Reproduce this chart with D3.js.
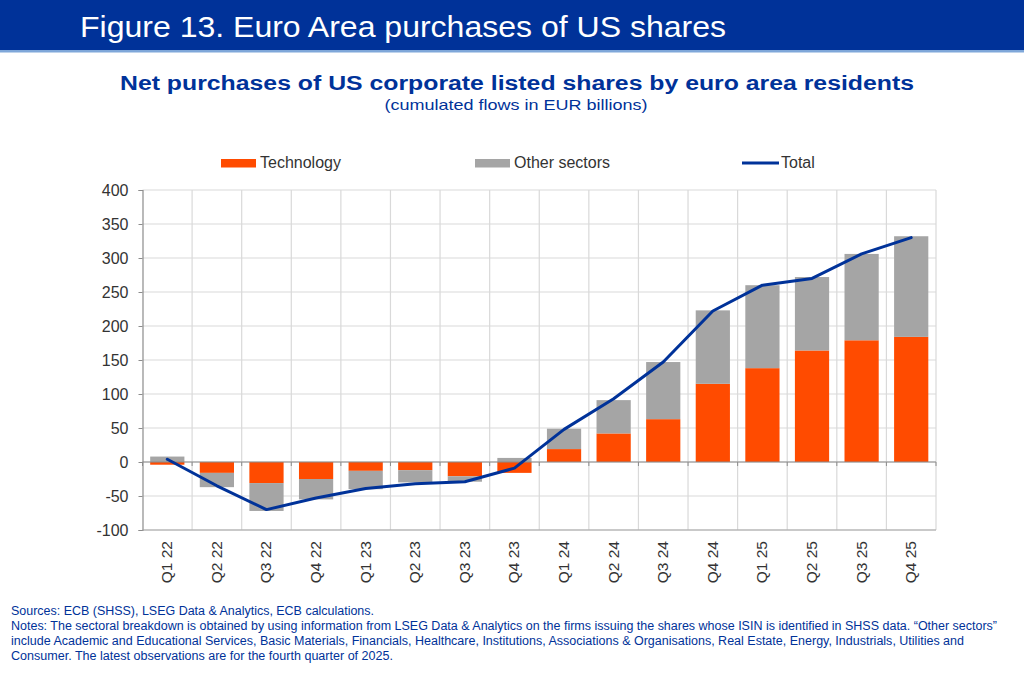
<!DOCTYPE html>
<html><head><meta charset="utf-8">
<script src="https://cdn.jsdelivr.net/npm/d3@7"></script>
<style>
body{margin:0;background:#fff;}
svg{display:block;font-family:"Liberation Sans",Arial,sans-serif;}
</style></head>
<body><svg id="c" width="1024" height="673"></svg>
<script>
const quarters = ["Q1 22","Q2 22","Q3 22","Q4 22","Q1 23","Q2 23","Q3 23","Q4 23","Q1 24","Q2 24","Q3 24","Q4 24","Q1 25","Q2 25","Q3 25","Q4 25"];
const technology = [-4,-16,-31,-25,-13,-12,-21,-16,19,42,63,115,138,164,179,184];
const otherSectors = [8,-21,-41,-30,-27,-18,-8,6,30,49,84,108,122,108,127,148];
const total = [4,-35,-70,-53,-39,-32,-29,-9,48,93,147,222,260,270,306,330];
const yTicks = [-100,-50,0,50,100,150,200,250,300,350,400];
const seriesNames = ["Technology","Other sectors","Total"];

const navy = "#003299", orange = "#FF4B00", grey = "#A5A5A5";
const svg = d3.select("#c");

// header
svg.append("rect").attr("x",0).attr("y",0).attr("width",1024).attr("height",50).attr("fill",navy);
svg.append("rect").attr("x",0).attr("y",50).attr("width",1024).attr("height",2.5).attr("fill","#7fa7d9");
svg.append("text").attr("x",80).attr("y",37).attr("fill","#fff").attr("font-size",29)
  .attr("textLength",646).attr("lengthAdjust","spacingAndGlyphs")
  .text("Figure 13. Euro Area purchases of US shares");
svg.append("text").attr("x",517).attr("y",90).attr("text-anchor","middle").attr("fill",navy)
  .attr("font-size",20).attr("font-weight","bold")
  .attr("textLength",794).attr("lengthAdjust","spacingAndGlyphs")
  .text("Net purchases of US corporate listed shares by euro area residents");
svg.append("text").attr("x",516).attr("y",110).attr("text-anchor","middle").attr("fill",navy)
  .attr("font-size",15).attr("textLength",263).attr("lengthAdjust","spacingAndGlyphs")
  .text("(cumulated flows in EUR billions)");

// scales
const L=142.5, R=936, T=190, B=530;
const x = d3.scaleBand().domain(quarters).range([L,R]).paddingInner(0.31).paddingOuter(0.155);
const y = d3.scaleLinear().domain([-100,400]).range([B,T]);

const g = svg.append("g");
g.selectAll("line.h").data(yTicks).join("line").attr("class","h")
  .attr("x1",L).attr("x2",R).attr("y1",d=>y(d)).attr("y2",d=>y(d))
  .attr("stroke","#d9d9d9").attr("stroke-width",1.2);
const step = x.step();
const bounds = quarters.map((q,i)=>x(q)-x.paddingOuter()*step + step);
g.selectAll("line.v").data(bounds).join("line").attr("class","v")
  .attr("x1",d=>d).attr("x2",d=>d).attr("y1",T).attr("y2",B)
  .attr("stroke","#d9d9d9").attr("stroke-width",1.2);

// stacked bars
const rows = quarters.map((q,i)=>({q, tech:technology[i], other:otherSectors[i]}));
const stack = d3.stack().keys(["tech","other"]).offset(d3.stackOffsetDiverging);
const stacked = stack(rows);
const colors = {tech:orange, other:grey};
g.selectAll("g.s").data(stacked).join("g").attr("class","s").attr("fill",d=>colors[d.key])
  .selectAll("rect").data(d=>d).join("rect")
  .attr("x",d=>x(d.data.q)).attr("width",x.bandwidth())
  .attr("y",d=>y(Math.max(d[0],d[1]))).attr("height",d=>Math.abs(y(d[0])-y(d[1])));

// y axis
const yAxis = d3.axisLeft(y).tickValues(yTicks).tickSize(4).tickPadding(10).tickFormat(d=>String(d));
const ya = svg.append("g").attr("transform",`translate(${L},0)`).call(yAxis);
ya.select(".domain").attr("stroke","#8c8c8c").attr("stroke-width",1.2);
ya.selectAll(".tick line").attr("stroke","#8c8c8c");
ya.selectAll(".tick text").attr("font-size",16).attr("fill","#333").attr("font-family","Liberation Sans,Arial,sans-serif");

// zero axis with ticks at boundaries
svg.append("line").attr("x1",L).attr("x2",R).attr("y1",y(0)).attr("y2",y(0)).attr("stroke","#8c8c8c").attr("stroke-width",1.2);
svg.selectAll("line.zt").data([L].concat(bounds)).join("line").attr("class","zt")
  .attr("x1",d=>d).attr("x2",d=>d).attr("y1",y(0)).attr("y2",y(0)+4).attr("stroke","#8c8c8c");
svg.append("line").attr("x1",L).attr("x2",R).attr("y1",B).attr("y2",B).attr("stroke","#a6a6a6").attr("stroke-width",1.2);

// total line
const line = d3.line().x((d,i)=>x(quarters[i])+x.bandwidth()/2).y(d=>y(d));
svg.append("path").datum(total).attr("d",line).attr("fill","none").attr("stroke",navy)
  .attr("stroke-width",3).attr("stroke-linejoin","round").attr("stroke-linecap","round");

// x labels rotated
svg.selectAll("text.xl").data(quarters).join("text").attr("class","xl")
  .attr("transform",d=>`translate(${x(d)+x.bandwidth()/2+5},541) rotate(-90)`)
  .attr("text-anchor","end").attr("font-size",15.5).attr("fill","#333").text(d=>d);

// legend
const lg = svg.append("g");
lg.append("rect").attr("x",221).attr("y",159).attr("width",35).attr("height",8.5).attr("fill",orange);
lg.append("text").attr("x",260).attr("y",168).attr("font-size",16).attr("fill","#333").text(seriesNames[0]);
lg.append("rect").attr("x",475).attr("y",159).attr("width",35).attr("height",8.5).attr("fill",grey);
lg.append("text").attr("x",514).attr("y",168).attr("font-size",16).attr("fill","#333").text(seriesNames[1]);
lg.append("line").attr("x1",742).attr("x2",779).attr("y1",163).attr("y2",163).attr("stroke",navy).attr("stroke-width",3);
lg.append("text").attr("x",781).attr("y",168).attr("font-size",16).attr("fill","#333").text(seriesNames[2]);

// footnotes
const notes = [
 ["Sources: ECB (SHSS), LSEG Data & Analytics, ECB calculations.",363],
 ["Notes: The sectoral breakdown is obtained by using information from LSEG Data & Analytics on the firms issuing the shares whose ISIN is identified in SHSS data. \u201cOther sectors\u201d",986],
 ["include Academic and Educational Services, Basic Materials, Financials, Healthcare, Institutions, Associations & Organisations, Real Estate, Energy, Industrials, Utilities and",953],
 ["Consumer. The latest observations are for the fourth quarter of 2025.",382]
];
svg.selectAll("text.fn").data(notes).join("text").attr("class","fn")
  .attr("x",11).attr("y",(d,i)=>615+i*15).attr("font-size",12).attr("fill",navy)
  .attr("textLength",d=>d[1]).attr("lengthAdjust","spacingAndGlyphs").text(d=>d[0]);
</script></body></html>
